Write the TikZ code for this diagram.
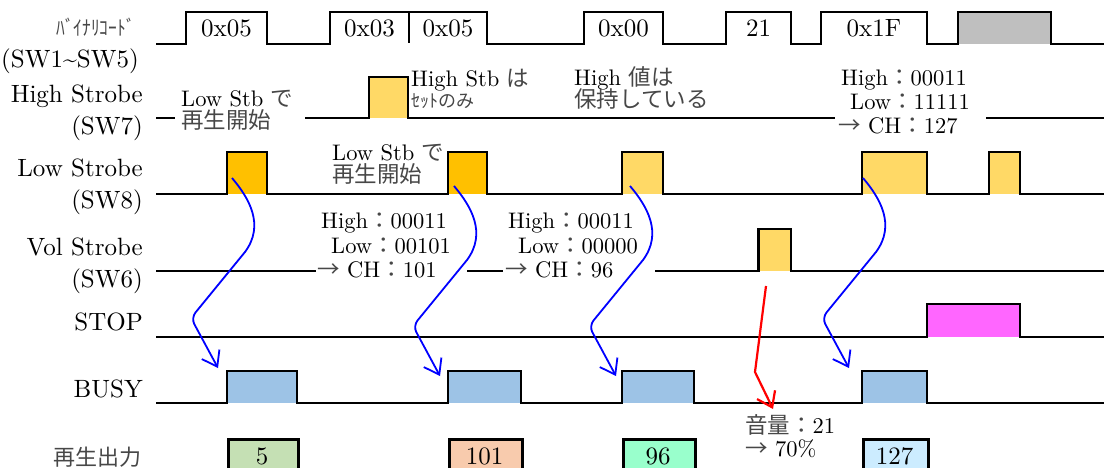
\documentclass[tikz,border=0pt]{standalone}
\usepackage{fontspec}
\setmainfont{lmroman10-regular.otf}
\newfontfamily\jpf{Noto Sans CJK JP}
\newcommand\jp{\jpf\color{black!72}}
\usetikzlibrary{arrows.meta}
\definecolor{cOrange}{HTML}{FFC000}
\definecolor{cYellow}{HTML}{FFD966}
\definecolor{cBlue}{HTML}{9DC3E6}
\definecolor{cMag}{HTML}{FF66FF}
\definecolor{cGray}{HTML}{BFBFBF}
\definecolor{cGreen}{HTML}{C5E0B4}
\definecolor{cSalmon}{HTML}{F8CBAD}
\definecolor{cMint}{HTML}{99FFCC}
\definecolor{cSky}{HTML}{CCECFF}
\begin{document}
\begin{tikzpicture}[x=1pt,y=-1pt,
  lab/.style={font=\fontsize{25}{30}\selectfont, inner sep=0pt, anchor=base east},
  jlab/.style={font=\fontsize{22}{27}\selectfont\jp, inner sep=0pt, anchor=base east},
  ann/.style={font=\fontsize{22.5}{26}\selectfont, inner sep=0pt, anchor=base west},
  val/.style={font=\fontsize{25}{30}\selectfont, inner sep=0pt, anchor=base},
  sig/.style={line width=2.6pt, line join=miter, line cap=butt},
  outbox/.style={draw, line width=2.6pt},
  barrow/.style={blue, line width=1.8pt, -{Straight Barb[length=14pt,width=20pt]}},
  rarrow/.style={red, line width=2.2pt, -{Straight Barb[length=14pt,width=20pt]}}]
\useasboundingbox (0,0) rectangle (1104,468);

% ---------- left labels ----------
\node[jlab, font=\fontsize{20.5}{24}\selectfont\jp] (L1) at (135,36) {\scalebox{0.85}[1]{ﾊﾞｲﾅﾘｺｰﾄﾞ}};
\node[lab] (L2) at (139,68) {(SW1\textasciitilde SW5)};
\node[lab] (L3) at (143,103) {High Strobe};
\node[lab] (L4) at (143,135) {(SW7)};
\node[lab] (L5) at (143,177) {Low Strobe};
\node[lab] (L6) at (143,208) {(SW8)};
\node[lab] (L7) at (143,255) {Vol Strobe};
\node[lab] (L8) at (143,287) {(SW6)};
\node[lab] (L9) at (143,330) {STOP};
\node[lab] (L10) at (143,397) {BUSY};
\node[jlab] (L11) at (142,465) {再生出力};

% ---------- binary code row ----------
\fill[cGray] (958,12) rectangle (1051,44);
\draw[sig] (156,44)--(186,44)--(186,12)--(267,12)--(267,44)--(330,44)--(330,12)--(487,12)--(487,44)
  --(584,44)--(584,12)--(663,12)--(663,44)--(726,44)--(726,12)--(791,12)--(791,44)
  --(821,44)--(821,12)--(927,12)--(927,44)--(958,44)--(958,12)--(1051,12)--(1051,44)--(1104,44);
\draw[sig] (409,12)--(409,43);
\node[val] (b1) at (226.5,37) {0x05};
\node[val] (b2) at (369.5,37) {0x03};
\node[val] (b3) at (448,37) {0x05};
\node[val] (b4) at (623.5,37) {0x00};
\node[val] (b5) at (758.5,37) {21};
\node[val] (b6) at (874,37) {0x1F};

% ---------- High strobe ----------
\fill[cYellow] (369,77) rectangle (408,118);
\draw[sig] (156,118)--(175,118);
\draw[sig] (305,118)--(369,118)--(369,77)--(408,77)--(408,118)--(835,118);
\draw[sig] (986,118)--(1104,118);
\node[ann] (h1) at (181,107) {Low Stb {\jp で}};
\node[ann] (h2) at (181,129) {\jp 再生開始};
\node[ann] (h3) at (411,87) {High Stb {\jp は}};
\node[ann, font=\fontsize{18}{22}\selectfont\jp] (h4) at (411,108) {ｾｯﾄのみ};
\node[ann] (h5) at (574,86) {High {\jp 値は}};
\node[ann] (h6) at (574,108) {\jp 保持している};
\node[ann] (h7) at (841,86) {High{\jp ：}00011};
\node[ann] (h8) at (850,110) {Low{\jp ：}11111};
\node[ann] (h9) at (838,134) {{\jp →} CH{\jp ：}127};

% ---------- Low strobe ----------
\fill[cOrange] (227,152) rectangle (267,194);
\fill[cOrange] (448,152) rectangle (487,194);
\fill[cYellow] (622,152) rectangle (663,194);
\fill[cYellow] (862,152) rectangle (927,194);
\fill[cYellow] (989,152) rectangle (1020,194);
\draw[sig] (156,194)--(227,194)--(227,152)--(267,152)--(267,194)--(448,194)--(448,152)--(487,152)--(487,194)
  --(622,194)--(622,152)--(663,152)--(663,194)--(862,194)--(862,152)--(927,152)--(927,194)
  --(989,194)--(989,152)--(1020,152)--(1020,194)--(1104,194);
\node[ann] (l1) at (332,161) {Low Stb {\jp で}};
\node[ann] (l2) at (332,183) {\jp 再生開始};

% ---------- Vol strobe ----------
\fill[cYellow] (758.5,229) rectangle (791,271);
\draw[sig] (156,271)--(316,271);
\draw[sig] (467,271)--(503,271);
\draw[sig] (655,271)--(758.5,271)--(758.5,229)--(791,229)--(791,271)--(1104,271);
\node[ann] (v1) at (321,229) {High{\jp ：}00011};
\node[ann] (v2) at (331,253) {Low{\jp ：}00101};
\node[ann] (v3) at (317,277) {{\jp →} CH{\jp ：}101};
\node[ann] (v4) at (508,229) {High{\jp ：}00011};
\node[ann] (v5) at (518,253) {Low{\jp ：}00000};
\node[ann] (v6) at (505,277) {{\jp →} CH{\jp ：}96};

% ---------- STOP ----------
\fill[cMag] (927,304) rectangle (1020,337);
\draw[sig] (156,337)--(927,337)--(927,304)--(1020,304)--(1020,337)--(1104,337);

% ---------- BUSY ----------
\fill[cBlue] (227,371) rectangle (297,403);
\fill[cBlue] (448,371) rectangle (521,403);
\fill[cBlue] (622,371) rectangle (694,403);
\fill[cBlue] (862,371) rectangle (927,403);
\draw[sig] (156,403)--(227,403)--(227,371)--(297,371)--(297,403)--(448,403)--(448,371)--(521,371)--(521,403)
  --(622,403)--(622,371)--(694,371)--(694,403)--(862,403)--(862,371)--(927,371)--(927,403)--(1104,403);

% ---------- output ----------
\node[outbox, fill=cGreen, minimum width=70pt, minimum height=40pt, anchor=north west, inner sep=0pt] (o1) at (227,438) {};
\node[outbox, fill=cSalmon, minimum width=73pt, minimum height=40pt, anchor=north west, inner sep=0pt] (o2) at (448,438) {};
\node[outbox, fill=cMint, minimum width=72pt, minimum height=40pt, anchor=north west, inner sep=0pt] (o3) at (622,438) {};
\node[outbox, fill=cSky, minimum width=65pt, minimum height=40pt, anchor=north west, inner sep=0pt] (o4) at (862,438) {};
\node[val] (o1t) at (262,464) {5};
\node[val] (o2t) at (484.5,464) {101};
\node[val] (o3t) at (658,464) {96};
\node[val] (o4t) at (894.5,464) {127};
\node[ann] (vol1) at (745,433) {{\jp 音量：}21};
\node[ann] (vol2) at (745,456) {{\jp →} 70\%};

% ---------- arrows ----------
\foreach \i/\xo/\dy in {1/227/0, 2/449/8, 3/625/8, 4/858/0}{
  \coordinate (bs\i) at (\xo+5,178+\dy);
  \coordinate (be\i) at (\xo-9,368+\dy);
  \draw[barrow] (bs\i) .. controls (\xo+22,198+\dy) and (\xo+38,225+\dy) .. (\xo+18,252+\dy)
     [rounded corners=7pt] -- (\xo-36,318+\dy) -- (be\i);
}
\coordinate (rs) at (766,286);
\coordinate (rc) at (755,372);
\coordinate (re) at (773,409);
\draw[rarrow] (rs) -- (rc) -- (re);
\end{tikzpicture}
\end{document}
